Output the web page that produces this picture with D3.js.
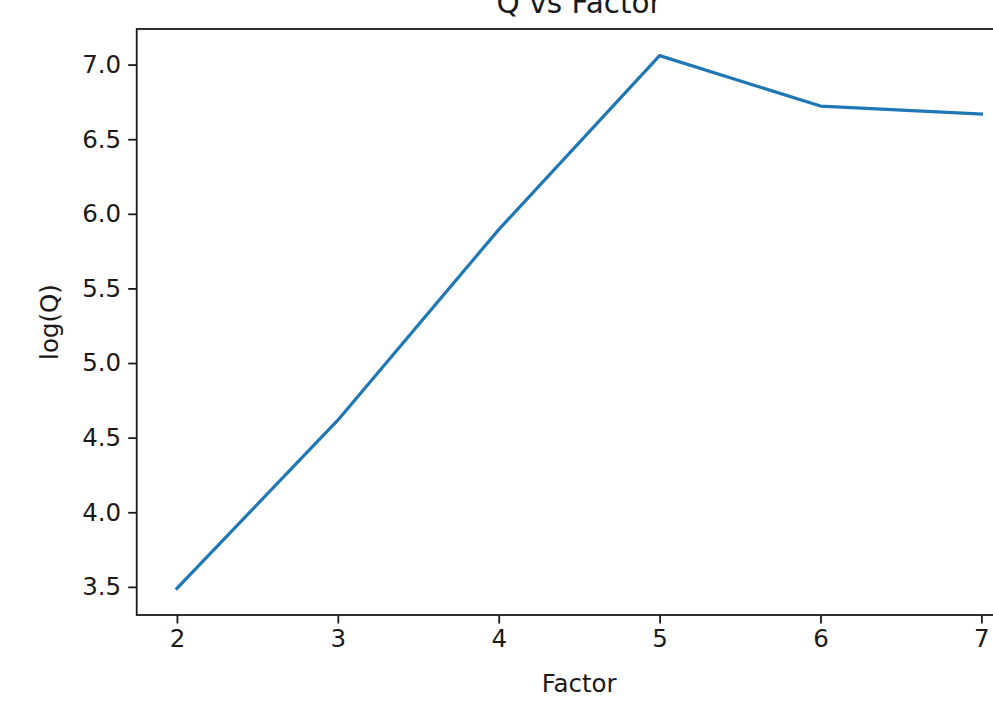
<!DOCTYPE html>
<html>
<head>
<meta charset="utf-8">
<script src="https://cdn.jsdelivr.net/npm/d3@7/dist/d3.min.js"></script>
<style>
  html, body { margin: 0; padding: 0; background: #fff; }
  svg { display: block; }
  text { font-family: "DejaVu Sans", sans-serif; fill: #1a1a1a; }
</style>
</head>
<body>
<svg id="chart" width="993" height="702"></svg>
<script>
const factors = [2, 3, 4, 5, 6, 7];
const logQ = [3.49, 4.617, 5.894, 7.06, 6.722, 6.668];
const xTicks = [2, 3, 4, 5, 6, 7];
const yTicks = [3.5, 4.0, 4.5, 5.0, 5.5, 6.0, 6.5, 7.0];
const titleText = "Q vs Factor";
const xLabel = "Factor";
const yLabel = "log(Q)";

const svg = d3.select("#chart");
const plotLeft = 136.7, plotRight = 1021.6, plotTop = 29, plotBottom = 615;
const tickFont = 24.5, titleFont = 29.5;

const xMin = d3.min(factors), xMax = d3.max(factors);
const xm = 0.05 * (xMax - xMin);
const x = d3.scaleLinear().domain([xMin - xm, xMax + xm]).range([plotLeft, plotRight]);
const yMin = d3.min(logQ), yMax = d3.max(logQ);
const ym = 0.05 * (yMax - yMin);
const y = d3.scaleLinear().domain([yMin - ym, yMax + ym]).range([plotBottom, plotTop]);

// line
const line = d3.line().x((d, i) => x(factors[i])).y(d => y(d));
svg.append("path")
  .datum(logQ)
  .attr("d", line)
  .attr("fill", "none")
  .attr("stroke", "#1f77b4")
  .attr("stroke-width", 3.2)
  .attr("stroke-linejoin", "round")
  .attr("stroke-linecap", "square");

// axes
const xAxis = d3.axisBottom(x).tickValues(xTicks).tickFormat(d3.format("d")).tickSize(8.5).tickPadding(6);
const yAxis = d3.axisLeft(y).tickValues(yTicks).tickFormat(d3.format(".1f")).tickSize(8.5).tickPadding(7);

const gx = svg.append("g").attr("transform", `translate(0,${plotBottom})`).call(xAxis);
const gy = svg.append("g").attr("transform", `translate(${plotLeft},0)`).call(yAxis);
[gx, gy].forEach(g => {
  g.select(".domain").remove();
  g.selectAll(".tick line").attr("stroke", "#1a1a1a").attr("stroke-width", 1.8);
  g.selectAll(".tick text").style("font-size", tickFont + "px").attr("fill", "#1a1a1a");
});

// spines
svg.append("rect")
  .attr("x", plotLeft).attr("y", plotTop)
  .attr("width", plotRight - plotLeft).attr("height", plotBottom - plotTop)
  .attr("fill", "none").attr("stroke", "#1a1a1a").attr("stroke-width", 1.8);

// title
svg.append("text")
  .attr("x", (plotLeft + plotRight) / 2).attr("y", 13)
  .attr("text-anchor", "middle")
  .style("font-size", titleFont + "px")
  .text(titleText);

// x label
svg.append("text")
  .attr("x", (plotLeft + plotRight) / 2).attr("y", 692)
  .attr("text-anchor", "middle")
  .style("font-size", tickFont + "px")
  .text(xLabel);

// y label
svg.append("text")
  .attr("transform", `translate(58,${(plotTop + plotBottom) / 2}) rotate(-90)`)
  .attr("text-anchor", "middle")
  .style("font-size", tickFont + "px")
  .text(yLabel);
</script>
</body>
</html>
